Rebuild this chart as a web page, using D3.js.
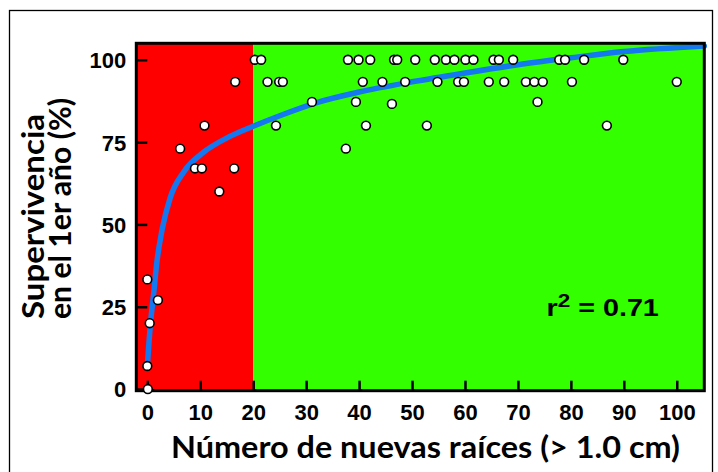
<!DOCTYPE html>
<html><head><meta charset="utf-8">
<script src="https://cdn.jsdelivr.net/npm/d3@7"></script>
<style>body{margin:0;background:#fff}svg{display:block}</style>
</head><body><svg id="c" width="718" height="472"></svg>
<script>
// ---- data ----
const pointX = [0.1, 0, 0.45, 0, 2, 6.2, 9, 10.3, 10.8, 13.6, 16.4, 16.6, 20.3, 21.5,
  22.7, 24.9, 25.6, 40.7, 44.4, 48.7, 54.8, 58.7, 59.8, 64.5, 67.4, 71.5, 73.1, 74.7, 80.2, 100.0,
  37.9, 39.9, 42.1, 46.6, 47.2, 50.6, 54.3, 56.4, 58.0, 60.1, 61.6, 65.4, 66.4, 69.1, 77.8, 78.9, 82.5, 89.9,
  31.1, 24.3, 39.4, 46.2, 41.3, 52.8, 37.5, 73.7, 86.8];
const pointY = [0, 7, 20, 33.3, 27, 73, 67, 67, 80, 60, 67, 93.3, 100, 100,
  93.3, 93.3, 93.3, 93.3, 93.3, 93.3, 93.3, 93.3, 93.3, 93.3, 93.3, 93.3, 93.3, 93.3, 93.3, 93.3,
  100, 100, 100, 100, 100, 100, 100, 100, 100, 100, 100, 100, 100, 100, 100, 100, 100, 100,
  87.2, 80, 87.2, 86.6, 80, 80, 73, 87.2, 80];
const fitX = [0, 0.6, 1.2, 1.8, 2.8, 4.3, 6.9, 10.7, 15.7, 20, 25, 32, 40, 50, 60, 70, 80, 90, 105.2];
const fitY = [7, 20, 29, 38.5, 48.5, 58, 66, 72, 76.8, 79.8, 83, 87, 90.2, 93.3, 96, 98.5, 100.6, 102.5, 104.2];
const xTicks = [0, 10, 20, 30, 40, 50, 60, 70, 80, 90, 100];
const yTicks = [0, 25, 50, 75, 100];
const xDomain = [-2.08, 105.2];
const yDomain = [-0.5, 105];
const regionBreak = 20;
const xTitle = "Número de nuevas raíces (> 1.0 cm)";
const yTitle = ["Supervivencia", "en el 1er año (%)"];
const r2Value = "0.71";

// ---- drawing ----
const svg = d3.select("#c");
const L = 136.3, R = 704.3, T = 43.3, B = 390.7;
const x = d3.scaleLinear().domain(xDomain).range([L, R]);
const y = d3.scaleLinear().domain(yDomain).range([B, T]);

svg.append("rect").attr("x", 9.5).attr("y", 10.5).attr("width", 703).attr("height", 470)
  .attr("fill", "none").attr("stroke", "#000").attr("stroke-width", 1.3);

svg.append("rect").attr("x", x(xDomain[0])).attr("y", T)
  .attr("width", x(regionBreak) - x(xDomain[0])).attr("height", B - T).attr("fill", "#ff0000");
svg.append("rect").attr("x", x(regionBreak)).attr("y", T)
  .attr("width", x(xDomain[1]) - x(regionBreak)).attr("height", B - T).attr("fill", "#33ff00");

const fit = fitX.map((d, i) => [d, fitY[i]]);
svg.append("path").datum(fit)
  .attr("d", d3.line().x(d => x(d[0])).y(d => y(d[1])).curve(d3.curveMonotoneX))
  .attr("fill", "none").attr("stroke", "#1478f0").attr("stroke-width", 5.5).attr("stroke-linecap", "round");

const tickFont = "'Liberation Sans', Arial, sans-serif";
const gx = svg.append("g").attr("transform", `translate(0,${B})`)
  .call(d3.axisBottom(x).tickValues(xTicks).tickSizeInner(-10).tickSizeOuter(0).tickPadding(13));
gx.select(".domain").remove();
gx.selectAll(".tick line").attr("stroke", "#000").attr("stroke-width", 2.5);
gx.selectAll(".tick text").attr("font-family", tickFont).attr("font-size", 22).attr("font-weight", "bold")
  .attr("fill", "#000").attr("dy", "0.72em");

const gy = svg.append("g").attr("transform", `translate(${L},0)`)
  .call(d3.axisLeft(y).tickValues(yTicks).tickSizeInner(-11).tickSizeOuter(0).tickPadding(10));
gy.select(".domain").remove();
gy.selectAll(".tick line").attr("stroke", "#000").attr("stroke-width", 2.5);
gy.selectAll(".tick text").attr("font-family", tickFont).attr("font-size", 22).attr("font-weight", "bold")
  .attr("fill", "#000").attr("dy", "0.36em");

svg.append("rect").attr("x", L).attr("y", T).attr("width", R - L).attr("height", B - T)
  .attr("fill", "none").attr("stroke", "#000").attr("stroke-width", 3);

const pts = pointX.map((d, i) => [d, pointY[i]]);
svg.append("g").selectAll("circle").data(pts).join("circle")
  .attr("cx", d => x(d[0])).attr("cy", d => y(d[1])).attr("r", 4.4)
  .attr("fill", "#fff").attr("stroke", "#000").attr("stroke-width", 1.6);

const r2 = svg.append("g").attr("transform", "translate(546.5,315.5) scale(1.25,1)")
  .append("text").attr("font-family", tickFont).attr("font-size", 23).attr("font-weight", "bold").attr("fill", "#000");
r2.append("tspan").text("r");
r2.append("tspan").attr("font-size", 18).attr("dy", -9).text("2");
r2.append("tspan").attr("dy", 9).text(" = " + r2Value);

const titleFont = "Lato, 'Open Sans', sans-serif";
svg.append("text").attr("x", 171).attr("y", 458)
  .attr("textLength", 509).attr("lengthAdjust", "spacingAndGlyphs")
  .attr("font-family", titleFont).attr("font-size", 30).attr("font-weight", "bold").attr("fill", "#000")
  .text(xTitle);
const yLens = [205, 221];
yTitle.forEach((t, i) => {
  svg.append("text").attr("transform", `translate(${44 + i * 27},319) rotate(-90)`)
    .attr("textLength", yLens[i]).attr("lengthAdjust", "spacingAndGlyphs")
    .attr("font-family", titleFont).attr("font-size", 30).attr("font-weight", "bold").attr("fill", "#000")
    .text(t);
});
</script></body></html>
